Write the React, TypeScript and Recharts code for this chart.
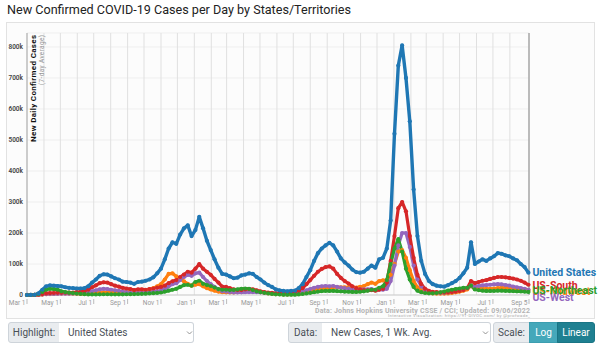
import React from 'react'
import { CartesianGrid, LabelList, Line, LineChart, ReferenceLine, XAxis, YAxis } from 'recharts'

// one sample per week, day 0 = Mar 1 2020 (7-day averages)
const usCases = [
    0, 100, 700, 5000, 17000, 28000, 31000, 30000, 29000, 28000,
    25000, 23000, 22000, 21000, 21000, 22000, 28000, 40000, 50000, 62000,
    67000, 66000, 60000, 54000, 50000, 43000, 42000, 40000, 36000, 42000,
    43000, 46000, 50000, 57000, 70000, 85000, 115000, 150000, 170000, 165000,
    195000, 215000, 225000, 190000, 210000, 252000, 215000, 175000, 145000, 115000,
    88000, 68000, 66000, 60000, 54000, 56000, 63000, 66000, 70000, 68000,
    58000, 50000, 40000, 32000, 26000, 18000, 15000, 13000, 12000, 13000,
    14000, 22000, 35000, 58000, 80000, 110000, 135000, 150000, 160000, 168000,
    160000, 140000, 118000, 105000, 95000, 82000, 74000, 72000, 75000, 85000,
    95000, 88000, 115000, 120000, 150000, 240000, 520000, 740000, 805000, 700000,
    560000, 340000, 190000, 110000, 68000, 45000, 35000, 30000, 28000, 27000,
    32000, 38000, 45000, 55000, 70000, 88000, 170000, 100000, 108000, 115000,
    110000, 118000, 125000, 135000, 133000, 128000, 125000, 118000, 112000, 100000,
    90000, 72000,
]

const southCases = [
    0, 0, 100, 800, 3000, 5000, 6000, 6500, 7000, 7000,
    7500, 7500, 8000, 9000, 10000, 12000, 17000, 25000, 31000, 38000,
    41000, 40000, 35000, 30000, 27000, 23000, 21000, 19000, 16000, 18000,
    18000, 17000, 19000, 21000, 24000, 26000, 30000, 38000, 44000, 48000,
    58000, 66000, 75000, 72000, 85000, 100000, 85000, 75000, 65000, 52000,
    40000, 27000, 26000, 22000, 18000, 16000, 16000, 18000, 19000, 18000,
    15000, 12000, 9500, 8000, 7000, 5500, 5000, 5000, 5500, 6500,
    8000, 13000, 22000, 35000, 48000, 62000, 75000, 84000, 90000, 92000,
    85000, 68000, 55000, 45000, 37000, 28000, 22000, 18000, 16000, 15000,
    16000, 14000, 17000, 20000, 40000, 110000, 190000, 280000, 300000, 270000,
    190000, 120000, 65000, 35000, 20000, 13000, 10000, 9000, 8000, 8000,
    8500, 9500, 11000, 13000, 16000, 22000, 45000, 38000, 42000, 46000,
    48000, 52000, 55000, 58000, 58000, 57000, 55000, 53000, 50000, 46000,
    40000, 33000,
]

const westCases = [
    100, 200, 500, 1000, 2000, 3000, 3500, 3500, 3800, 4000,
    4000, 4200, 4500, 5000, 5500, 6500, 9000, 12000, 15000, 18000,
    20000, 19000, 17000, 15000, 13000, 11000, 9000, 8000, 7000, 7500,
    7500, 8000, 8500, 10000, 12000, 14000, 20000, 28000, 35000, 38000,
    48000, 58000, 65000, 62000, 70000, 72000, 58000, 45000, 35000, 26000,
    18000, 12000, 11000, 9000, 8000, 8000, 8500, 9000, 9500, 9500,
    9000, 8500, 7500, 6500, 5500, 4500, 4000, 3500, 3500, 4000,
    4500, 6500, 10000, 15000, 19000, 23000, 26000, 28000, 29000, 28000,
    29000, 26000, 24000, 22000, 21000, 19000, 18000, 18000, 18000, 18000,
    19000, 16000, 18000, 17000, 20000, 45000, 95000, 160000, 200000, 200000,
    155000, 95000, 50000, 28000, 16000, 11000, 8500, 7500, 7000, 7000,
    8000, 9500, 12000, 15000, 18000, 22000, 30000, 26000, 29000, 31000,
    32000, 33000, 34000, 35000, 34000, 32000, 30000, 27000, 25000, 22000,
    20000, 17000,
]

const midwestCases = [
    0, 0, 100, 500, 1500, 2500, 3000, 3200, 4000, 4500,
    4800, 4500, 4200, 4000, 3500, 3500, 4000, 5000, 6000, 7000,
    7500, 8000, 8000, 8500, 9000, 9500, 10000, 10500, 11000, 12000,
    13000, 15000, 18000, 22000, 28000, 35000, 50000, 68000, 70000, 60000,
    52000, 44000, 36000, 30000, 33000, 35000, 28000, 22000, 18000, 14000,
    11000, 9000, 8500, 8000, 8000, 9500, 12000, 14000, 17000, 15000,
    12000, 9500, 7500, 5500, 4000, 3000, 2500, 2000, 2000, 2200,
    2800, 4000, 6000, 9000, 12000, 15000, 18000, 20000, 22000, 22000,
    25000, 25000, 25000, 25000, 25000, 24000, 24000, 26000, 29000, 35000,
    40000, 36000, 45000, 47000, 48000, 65000, 100000, 140000, 145000, 120000,
    80000, 45000, 25000, 14000, 9000, 6500, 5000, 4500, 4500, 4500,
    5000, 6500, 8500, 11000, 14000, 18000, 30000, 20000, 21000, 21000,
    20000, 20000, 21000, 22000, 23000, 23000, 22000, 21000, 20000, 19000,
    18000, 16000,
]

const northeastCases = [
    0, 100, 500, 3500, 10000, 17000, 20000, 19000, 17000, 12000,
    9500, 7500, 6000, 4500, 3500, 2500, 2000, 2000, 2000, 2200,
    2400, 2400, 2300, 2300, 2200, 2300, 2400, 2600, 2900, 3300,
    3800, 4200, 5000, 5800, 6800, 8000, 11000, 14000, 17000, 20000,
    26000, 32000, 33000, 30000, 42000, 46000, 36000, 32000, 29000, 24000,
    19000, 17000, 17000, 16000, 16500, 18000, 20000, 21000, 20000, 16000,
    12000, 9000, 7000, 5000, 3500, 2200, 1600, 1200, 1000, 1000,
    1200, 2000, 3200, 5000, 7000, 9000, 11000, 12500, 13500, 13000,
    13500, 12500, 12000, 11000, 10500, 10000, 10000, 10500, 12000, 14000,
    17000, 17000, 23000, 28000, 48000, 100000, 150000, 180000, 140000, 85000,
    50000, 26000, 14000, 9000, 6500, 5500, 5500, 6500, 8500, 11000,
    14000, 17000, 19000, 21000, 23000, 23000, 30000, 18000, 16000, 14000,
    13000, 13000, 13500, 14000, 14000, 13500, 13000, 12500, 12000, 11500,
    11000, 10000,
]

// first of every month (days since Mar 1 2020), last one is the update date
const tickDays = [
    0, 31, 61, 92, 122, 153, 184, 214, 245, 275, 306, 337, 365, 396, 426, 457,
    487, 518, 549, 579, 610, 640, 671, 702, 730, 761, 791, 822, 852, 883, 918,
]
const tickNames = [
    'Mar 1', '', 'May 1', '', 'Jul 1', '', 'Sep 1', '', 'Nov 1', '', 'Jan 1', '', 'Mar 1', '', 'May 1', '',
    'Jul 1', '', 'Sep 1', '', 'Nov 1', '', 'Jan 1', '', 'Mar 1', '', 'May 1', '', 'Jul 1', '', 'Sep 5',
]
const yTicks = [0, 100000, 200000, 300000, 400000, 500000, 600000, 700000, 800000]

const data = usCases.map((us, i) => ({
    day: i * 7,
    us,
    south: southCases[i],
    west: westCases[i],
    midwest: midwestCases[i],
    northeast: northeastCases[i],
}))

const series = [
    { key: 'midwest', name: 'US-Midwest', color: '#ff7f0e', labelDy: 4.5 },
    { key: 'west', name: 'US-West', color: '#9467bd', labelDy: 11 },
    { key: 'south', name: 'US-South', color: '#d62728', labelDy: 4.7 },
    { key: 'northeast', name: 'US-Northeast', color: '#2ca02c', labelDy: 2.6 },
    { key: 'us', name: 'United States', color: '#1f77b4', labelDy: 3.5 },
]

const font = 'Roboto, "Open Sans", sans-serif'

const MonthTick = ({ x, y, payload }: any) => {
    const name = tickNames[tickDays.indexOf(payload.value)]
    if (!name) return null
    return (
        <g>
            <line stroke="#bbb" x1={x} x2={x} y1={y + 2} y2={y + 7} />
            <text fill="#999" fontFamily={font} fontSize={6.5} textAnchor="end" x={x - 1.5} y={y + 7.5}>
                {name}
            </text>
        </g>
    )
}

const endLabel = (name: string, color: string, dy: number) => (props: any) => {
    if (props.index !== data.length - 1) return null
    return (
        <text fill={color} fontFamily={font} fontSize={10.5} fontWeight={700} x={Number(props.x) + 4} y={Number(props.y) + dy}>
            {name}
        </text>
    )
}

const Chevron = ({ x }: { x: number }) => (
    <svg height={6} style={{ left: x, position: 'absolute', top: 330 }} width={7}>
        <polyline fill="none" points="1,1.5 3.5,4 6,1.5" stroke="#888" strokeWidth={0.9} />
    </svg>
)

const boxBase: React.CSSProperties = {
    alignItems: 'center',
    border: '1px solid #ced4da',
    boxSizing: 'border-box',
    color: '#495057',
    display: 'flex',
    fontFamily: font,
    fontSize: 10,
    height: 21,
    position: 'absolute',
    top: 322,
}

const App = () => (
    <div style={{ background: '#fff', height: 345, left: 0, overflow: 'hidden', position: 'absolute', top: 0, width: 600 }}>
        <div style={{ color: '#222', fontFamily: font, fontSize: 12.6, left: 7, position: 'absolute', top: 2, whiteSpace: 'nowrap' }}>
            New Confirmed COVID-19 Cases per Day by States/Territories
        </div>
        <div style={{ background: '#fcfcfc', border: '1px solid #e2e2e2', boxSizing: 'border-box', height: 297, left: 6, position: 'absolute', top: 22, width: 589 }} />
        <div style={{ left: 0, position: 'absolute', top: 0 }}>
            <LineChart data={data} height={320} margin={{ bottom: 10, left: 5, right: 71, top: 33 }} width={600}>
                <CartesianGrid horizontal={true} stroke="#efefef" vertical={false} />
                <CartesianGrid horizontal={false} stroke="#e0e0e0" vertical={true} />
                <XAxis
                    axisLine={{ stroke: '#ccc' }}
                    dataKey="day"
                    domain={[0, 918]}
                    height={15}
                    interval={0}
                    tick={<MonthTick />}
                    tickLine={false}
                    tickSize={0}
                    ticks={tickDays}
                    type="number"
                />
                <YAxis
                    axisLine={{ stroke: '#aaa' }}
                    domain={[0, 845000]}
                    interval={0}
                    tick={{ fill: '#444', fontFamily: font, fontSize: 6.5, fontWeight: 600 }}
                    tickFormatter={(v: number) => (v === 0 ? '0' : `${v / 1000}k`)}
                    tickLine={false}
                    tickMargin={4}
                    tickSize={0}
                    ticks={yTicks}
                    type="number"
                    width={22}
                />
                <ReferenceLine stroke="#999" strokeWidth={1.2} x={918} />
                {series.map((s) => (
                    <Line
                        dataKey={s.key}
                        dot={{ fill: s.color, r: 2.1, stroke: s.color, strokeWidth: 0 }}
                        isAnimationActive={false}
                        key={s.key}
                        stroke={s.color}
                        strokeLinejoin="round"
                        strokeWidth={s.key === 'us' ? 3.4 : 3.2}
                        type="linear"
                    >
                        <LabelList content={endLabel(s.name, s.color, s.labelDy)} dataKey={s.key} />
                    </Line>
                ))}
            </LineChart>
        </div>
        <svg height={345} style={{ left: 0, pointerEvents: 'none', position: 'absolute', top: 0 }} width={600}>
            <text
                fill="#111"
                fontFamily={font}
                fontSize={8}
                fontWeight={700}
                textAnchor="end"
                textLength={107}
                transform="translate(35.5 35) rotate(-90)"
            >
                New Daily Confirmed Cases
            </text>
            <text fill="#999" fontFamily={font} fontSize={6.5} textAnchor="end" textLength={50} transform="translate(43.5 35) rotate(-90)">
                (7-day Average)
            </text>
            <text fill="#b4b4b4" fontFamily={font} fontSize={7} fontWeight={700} textLength={215} x={315} y={312.5}>
                Data: Johns Hopkins University CSSE / CCI; Updated: 09/06/2022
            </text>
            <text fill="#aaa" fontFamily={font} fontSize={4.2} textLength={142} x={388} y={317}>
                Interactive Visualization: https://91-DIVOC.com/ by @profwade_
            </text>
        </svg>
        <div style={{ ...boxBase, background: '#e9ecef', borderRadius: '3px 0 0 3px', justifyContent: 'center', left: 8, width: 52 }}>Highlight:</div>
        <div style={{ ...boxBase, background: '#fff', borderLeft: 'none', borderRadius: '0 3px 3px 0', left: 59, paddingLeft: 9, width: 135 }}>United States</div>
        <Chevron x={186} />
        <div style={{ ...boxBase, background: '#e9ecef', borderRadius: '3px 0 0 3px', justifyContent: 'center', left: 288, width: 35 }}>Data:</div>
        <div style={{ ...boxBase, background: '#fff', borderLeft: 'none', borderRadius: '0 3px 3px 0', left: 322, paddingLeft: 9, width: 169 }}>New Cases, 1 Wk. Avg.</div>
        <Chevron x={482} />
        <div style={{ ...boxBase, background: '#e9ecef', borderRadius: '3px 0 0 3px', justifyContent: 'center', left: 493, width: 37 }}>Scale:</div>
        <div style={{ ...boxBase, background: '#45a8ba', border: '1px solid #3d9eb0', color: '#fff', justifyContent: 'center', left: 529, width: 29 }}>Log</div>
        <div style={{ ...boxBase, background: '#1f8091', border: '1px solid #1a7585', borderRadius: '0 3px 3px 0', color: '#fff', justifyContent: 'center', left: 557, width: 38 }}>Linear</div>
    </div>
)

export default App
